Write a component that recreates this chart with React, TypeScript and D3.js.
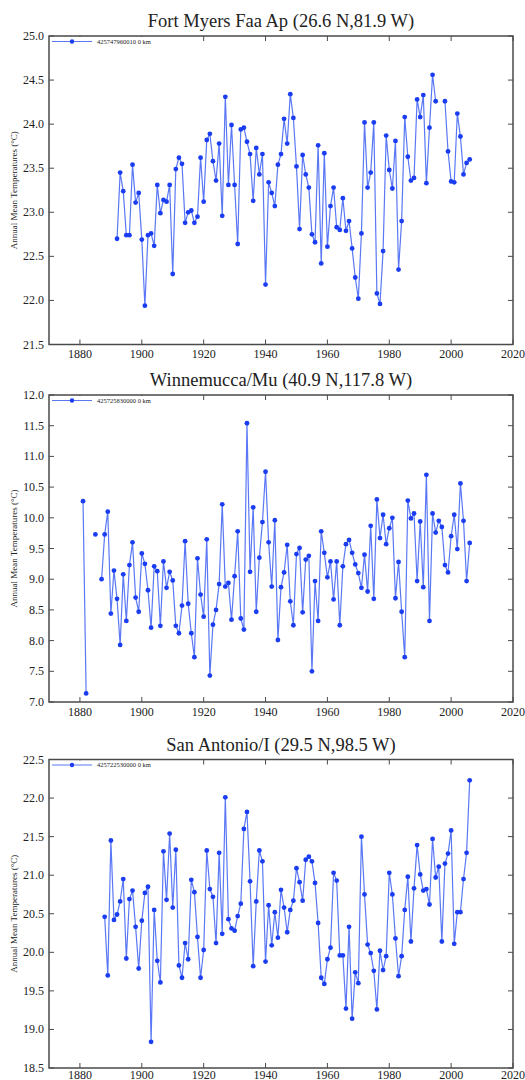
import React from "react";
import * as d3 from "d3";

// Annual mean temperature records for three US stations (°C).
// Each series starts at the given year; null marks a missing year.

const fortMyersStart = 1892;
const fortMyersTemps: (number | null)[] = [
  22.70, 23.45, 23.24, 22.74, 22.74, 23.54, 23.11, 23.22, 22.69, 21.94,
  22.74, 22.76, 22.62, 23.31, 22.99, 23.14, 23.12, 23.31, 22.30, 23.49,
  23.62, 23.55, 22.88, 23.00, 23.02, 22.88, 22.95, 23.62, 23.12, 23.82,
  23.89, 23.58, 23.36, 23.78, 22.96, 24.31, 23.31, 23.99, 23.31, 22.64,
  23.94, 23.96, 23.80, 23.66, 23.13, 23.73, 23.43, 23.66, 22.18, 23.34,
  23.22, 23.07, 23.54, 23.66, 24.06, 23.78, 24.34, 24.07, 23.52, 22.81,
  23.65, 23.43, 23.28, 22.75, 22.66, 23.76, 22.42, 23.67, 22.61, 23.07,
  23.28, 22.83, 22.80, 23.16, 22.79, 22.90, 22.59, 22.26, 22.02, 22.76,
  24.02, 23.28, 23.45, 24.02, 22.08, 21.96, 22.56, 23.87, 23.48, 23.27,
  23.81, 22.35, 22.90, 24.08, 23.63, 23.36, 23.39, 24.28, 24.08, 24.33,
  23.33, 23.96, 24.56, 24.26, null, null, 24.26, 23.69, 23.35, 23.34,
  24.12, 23.86, 23.43, 23.56, 23.60,
];

const winnemuccaStart = 1881;
const winnemuccaTemps: (number | null)[] = [
  10.27, 7.14, null, null, 9.73, null, 9.00, 9.73, 10.10, 8.44,
  9.14, 8.68, 7.93, 9.08, 8.32, 9.23, 9.60, 8.70, 8.47, 9.42,
  9.25, 8.82, 8.21, 9.21, 9.13, 8.24, 9.29, 8.86, 9.12, 8.98,
  8.24, 8.12, 8.57, 9.62, 8.60, 8.12, 7.73, 9.34, 8.75, 8.39,
  9.65, 7.43, 8.26, 8.50, 8.92, 10.22, 8.88, 8.94, 8.34, 9.05,
  9.78, 8.36, 8.18, 11.54, 9.12, 10.17, 8.47, 9.35, 9.93, 10.75,
  9.60, 8.88, 9.96, 8.01, 8.87, 9.11, 9.56, 8.64, 8.25, 9.41,
  9.51, 8.46, 9.32, 9.38, 7.50, 8.97, 8.32, 9.78, 9.43, 9.03,
  9.29, 8.67, 9.29, 8.25, 9.21, 9.57, 9.64, 9.43, 9.24, 9.10,
  8.86, 9.40, 8.80, 9.87, 8.68, 10.30, 9.67, 10.05, 9.57, 9.83,
  10.00, 8.69, 9.28, 8.47, 7.73, 10.28, 9.99, 10.07, 8.97, 9.94,
  8.87, 10.70, 8.32, 10.07, 9.76, 9.95, 9.85, 9.23, 9.11, 9.70,
  10.05, 9.49, 10.56, 9.95, 8.97, 9.59,
];

const sanAntonioStart = 1888;
const sanAntonioTemps: (number | null)[] = [
  20.46, 19.70, 21.45, 20.42, 20.49, 20.66, 20.95, 19.92, 20.69, 20.80,
  20.33, 19.79, 20.41, 20.77, 20.85, 18.84, 20.55, 19.89, 19.61, 21.31,
  20.68, 21.54, 20.58, 21.33, 19.83, 19.67, 20.12, 19.91, 20.94, 20.78,
  20.20, 19.67, 20.03, 21.32, 20.82, 20.72, 20.12, 21.29, 20.24, 22.01,
  20.43, 20.31, 20.28, 20.47, 20.63, 21.60, 21.82, 20.92, 19.82, 20.66,
  21.32, 21.18, 19.88, 20.61, 20.09, 20.52, 20.19, 20.81, 20.58, 20.26,
  20.55, 20.67, 21.09, 20.91, 20.67, 21.20, 21.24, 21.18, 20.90, 20.38,
  19.67, 19.59, 19.91, 20.06, 21.03, 20.93, 19.96, 19.96, 19.27, 20.33,
  19.14, 19.74, 19.60, 21.50, 20.75, 20.10, 19.99, 19.76, 19.26, 20.02,
  19.77, 19.95, 21.03, 20.75, 20.18, 19.69, 19.95, 20.55, 20.98, 20.14,
  20.83, 21.39, 21.01, 20.80, 20.82, 20.62, 21.47, 20.97, 21.11, 20.14,
  21.15, 21.28, 21.58, 20.11, 20.52, 20.52, 20.95, 21.29, 22.23,
];

const yearTicks = [1880, 1900, 1920, 1940, 1960, 1980, 2000, 2020];
const fortMyersTicks = [21.5, 22.0, 22.5, 23.0, 23.5, 24.0, 24.5, 25.0];
const winnemuccaTicks = [7.0, 7.5, 8.0, 8.5, 9.0, 9.5, 10.0, 10.5, 11.0, 11.5, 12.0];
const sanAntonioTicks = [18.5, 19.0, 19.5, 20.0, 20.5, 21.0, 21.5, 22.0, 22.5];

const stations = [
  { title: "Fort Myers Faa Ap (26.6 N,81.9 W)", id: "425747960010", start: fortMyersStart, temps: fortMyersTemps, ticks: fortMyersTicks },
  { title: "Winnemucca/Mu (40.9 N,117.8 W)", id: "425725830000", start: winnemuccaStart, temps: winnemuccaTemps, ticks: winnemuccaTicks },
  { title: "San Antonio/I (29.5 N,98.5 W)", id: "425722530000", start: sanAntonioStart, temps: sanAntonioTemps, ticks: sanAntonioTicks },
];

// Layout
const WIDTH = 525;
const HEIGHT = 1080;
const PLOT_LEFT = 49;
const PLOT_RIGHT = 513;
const PANEL_BOXES = [
  { top: 36, bottom: 344.5 },
  { top: 395, bottom: 702 },
  { top: 759.5, bottom: 1068 },
];
const SERIF = "Liberation Serif, Times New Roman, serif";
const LINE_COLOR = "#5a78f5";
const DOT_COLOR = "#1a3df2";
const FRAME_COLOR = "#4a4a4a";
const TEXT_COLOR = "#222";
const TICK_LEN = 5;

type Station = (typeof stations)[number];

function Panel({ station, box }: { station: Station; box: { top: number; bottom: number } }) {
  const x = d3.scaleLinear().domain([1870, 2020]).range([PLOT_LEFT, PLOT_RIGHT]);
  const ticks = station.ticks;
  const y = d3
    .scaleLinear()
    .domain([ticks[0], ticks[ticks.length - 1]])
    .range([box.bottom, box.top]);

  const series: [number, number | null][] = station.temps.map((v, i) => [station.start + i, v]);
  const line = d3
    .line<[number, number | null]>()
    .defined((d) => d[1] != null)
    .x((d) => x(d[0]))
    .y((d) => y(d[1] as number));

  const midX = (PLOT_LEFT + PLOT_RIGHT) / 2;
  const midY = (box.top + box.bottom) / 2;
  const legendY = box.top + 5.5;
  // year labels sit under the frame, kept inside the page
  const yearLabelY = Math.min(box.bottom + 13.5, HEIGHT - 1.5);

  return (
    <g>
      <text
        x={midX}
        y={box.top - 9}
        textAnchor="middle"
        fontFamily={SERIF}
        fontSize={18.5}
        fill={TEXT_COLOR}
      >
        {station.title}
      </text>

      {/* inward ticks on all four sides */}
      {yearTicks.map((t) => (
        <g key={`xt${t}`}>
          <line x1={x(t)} x2={x(t)} y1={box.bottom} y2={box.bottom - TICK_LEN} stroke={FRAME_COLOR} strokeWidth={1} />
          <line x1={x(t)} x2={x(t)} y1={box.top} y2={box.top + TICK_LEN} stroke={FRAME_COLOR} strokeWidth={1} />
          <text
            x={x(t)}
            y={yearLabelY}
            textAnchor="middle"
            fontFamily={SERIF}
            fontSize={12}
            fill={TEXT_COLOR}
          >
            {t}
          </text>
        </g>
      ))}
      {ticks.map((t) => (
        <g key={`yt${t}`}>
          <line x1={PLOT_LEFT} x2={PLOT_LEFT + TICK_LEN} y1={y(t)} y2={y(t)} stroke={FRAME_COLOR} strokeWidth={1} />
          <line x1={PLOT_RIGHT} x2={PLOT_RIGHT - TICK_LEN} y1={y(t)} y2={y(t)} stroke={FRAME_COLOR} strokeWidth={1} />
          <text
            x={PLOT_LEFT - 5}
            y={y(t) + 4}
            textAnchor="end"
            fontFamily={SERIF}
            fontSize={12}
            fill={TEXT_COLOR}
          >
            {d3.format(".1f")(t)}
          </text>
        </g>
      ))}

      <text
        transform={`translate(17,${midY}) rotate(-90)`}
        textAnchor="middle"
        fontFamily={SERIF}
        fontSize={9}
        fill={TEXT_COLOR}
      >
        Annual Mean Temperatures (°C)
      </text>

      <path d={line(series) ?? ""} fill="none" stroke={LINE_COLOR} strokeWidth={1.2} />
      {series
        .filter((d) => d[1] != null)
        .map((d) => (
          <circle key={d[0]} cx={x(d[0])} cy={y(d[1] as number)} r={2.4} fill={DOT_COLOR} />
        ))}

      {/* legend */}
      <rect x={PLOT_LEFT + 1} y={box.top + 1} width={116} height={9} fill="#fff" />
      <line x1={52} x2={92} y1={legendY} y2={legendY} stroke={LINE_COLOR} strokeWidth={1.2} />
      <circle cx={72} cy={legendY} r={2.2} fill={DOT_COLOR} />
      <text x={97} y={legendY + 2.3} fontFamily={SERIF} fontSize={6.5} fill={TEXT_COLOR}>
        {`${station.id} 0 km`}
      </text>

      <rect
        x={PLOT_LEFT}
        y={box.top}
        width={PLOT_RIGHT - PLOT_LEFT}
        height={box.bottom - box.top}
        fill="none"
        stroke={FRAME_COLOR}
        strokeWidth={1.5}
      />
    </g>
  );
}

export default function App() {
  return (
    <svg
      width={WIDTH}
      height={HEIGHT}
      viewBox={`0 0 ${WIDTH} ${HEIGHT}`}
      style={{ position: "absolute", left: 0, top: 0, background: "#fff", display: "block" }}
    >
      <rect width={WIDTH} height={HEIGHT} fill="#fff" />
      {stations.map((s, i) => (
        <Panel key={s.id} station={s} box={PANEL_BOXES[i]} />
      ))}
    </svg>
  );
}
